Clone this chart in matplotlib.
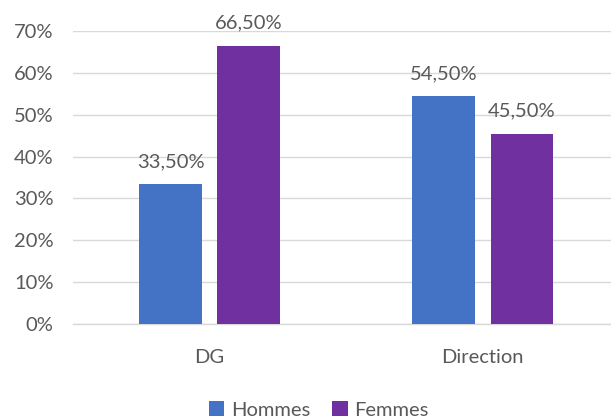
import numpy as np
import matplotlib
matplotlib.use('Agg')
import matplotlib.pyplot as plt
from matplotlib.ticker import FuncFormatter

categories = ['DG', 'Direction']
hommes = [0.335, 0.545]
femmes = [0.665, 0.455]
series_names = ['Hommes', 'Femmes']

plt.rcParams['font.family'] = ['Lato', 'DejaVu Sans']
grey = '#595959'
fs = 14.5

fig = plt.figure(figsize=(6.11, 4.19), dpi=100)
ax = fig.add_axes([0.1195, 0.2267, 0.8805, 0.6993])

x = np.arange(len(categories))
w = 0.228
off = 0.143
b1 = ax.bar(x - off, hommes, w, color='#4472C4', label=series_names[0], zorder=3)
b2 = ax.bar(x + off, femmes, w, color='#7030A0', label=series_names[1], zorder=3)

for bars, vals in [(b1, hommes), (b2, femmes)]:
    for rect, v in zip(bars, vals):
        ax.annotate(f'{v*100:.2f}%'.replace('.', ','),
                    (rect.get_x() + rect.get_width() / 2, v),
                    xytext=(0, 10), textcoords='offset points',
                    ha='center', va='bottom', fontsize=fs, color=grey)

ax.set_xlim(-0.5, 1.47)
ax.set_ylim(0, 0.7)
ax.set_yticks(np.arange(0, 0.71, 0.1))
ax.yaxis.set_major_formatter(FuncFormatter(lambda v, p: f'{v*100:.0f}%'))
ax.set_xticks(x)
ax.set_xticklabels(categories)
ax.tick_params(axis='both', length=0, labelsize=fs, labelcolor=grey)
ax.tick_params(axis='x', pad=18)
ax.tick_params(axis='y', pad=14)
ax.grid(axis='y', color='#d9d9d9', linewidth=1, zorder=0)
for s in ['top', 'right', 'left']:
    ax.spines[s].set_visible(False)
ax.spines['bottom'].set_color('#d9d9d9')
ax.spines['bottom'].set_linewidth(1)

leg = fig.legend(handles=[b1, b2], labels=series_names, loc='lower center',
                 bbox_to_anchor=(0.522, -0.043), ncol=2, frameon=False,
                 fontsize=fs, handlelength=0.75, handleheight=0.75,
                 handletextpad=0.35, columnspacing=1.1)
for t in leg.get_texts():
    t.set_color(grey)

fig.savefig('out.png', dpi=100)
